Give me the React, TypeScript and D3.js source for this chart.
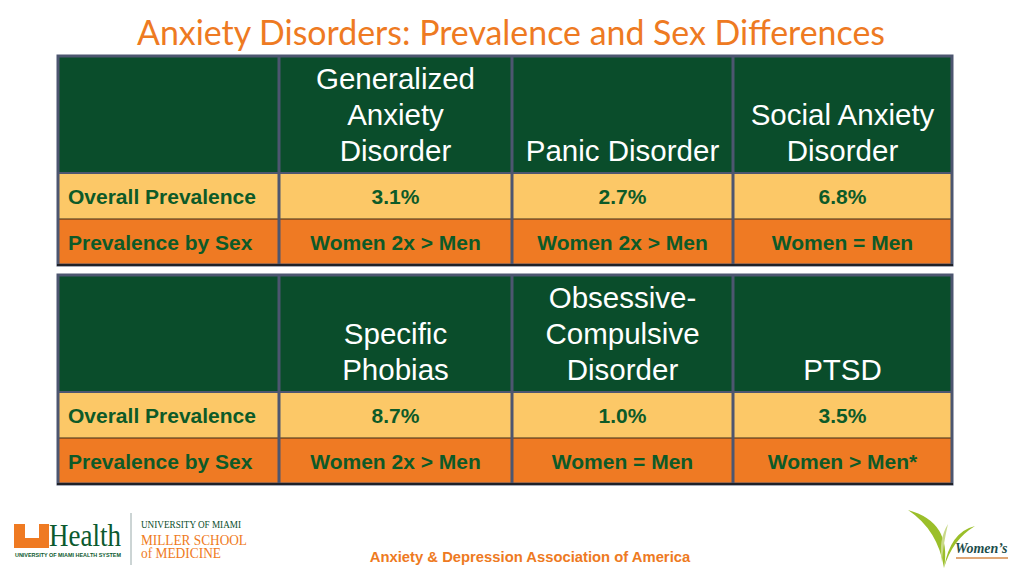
import React from "react";
import * as d3 from "d3";

const title = "Anxiety Disorders: Prevalence and Sex Differences";
const rowLabels = ["Overall Prevalence", "Prevalence by Sex"];
const disordersTop = [["Generalized", "Anxiety", "Disorder"], ["Panic Disorder"], ["Social Anxiety", "Disorder"]];
const prevalenceTop = ["3.1%", "2.7%", "6.8%"];
const sexTop = ["Women 2x > Men", "Women 2x > Men", "Women = Men"];
const disordersBottom = [["Specific", "Phobias"], ["Obsessive-", "Compulsive", "Disorder"], ["PTSD"]];
const prevalenceBottom = ["8.7%", "1.0%", "3.5%"];
const sexBottom = ["Women 2x > Men", "Women = Men", "Women > Men*"];
const source = "Anxiety & Depression Association of America";

const GREEN = "#0a4d2b";
const LIGHT = "#fcc867";
const DARK = "#ef7a23";
const TXT = "#0d5a28";
const BORDER = "#4d5670";

const colEdges = [58, 279, 512, 733, 952];

type TableProps = {
  top: number;
  headers: string[][];
  prev: string[];
  sex: string[];
};

function Table({ top, headers, prev, sex }: TableProps) {
  const headerH = 117;
  const rowH = 46;
  const y = d3.scaleLinear().domain([0, 1, 2, 3]).range([top, top + headerH, top + headerH + rowH, top + headerH + 2 * rowH]);
  const left = colEdges[0];
  const right = colEdges[colEdges.length - 1];
  const cells: JSX.Element[] = [];
  const rowFills = [GREEN, LIGHT, DARK];
  for (let r = 0; r < 3; r++) {
    cells.push(
      <rect key={"bg" + r} x={left} y={y(r)} width={right - left} height={y(r + 1) - y(r)} fill={rowFills[r]} />
    );
  }
  headers.forEach((lines, i) => {
    const cx = (colEdges[i + 1] + colEdges[i + 2]) / 2;
    const n = lines.length;
    lines.forEach((ln, j) => {
      cells.push(
        <text key={"h" + i + j} x={cx} y={y(1) - 12 - (n - 1 - j) * 36} textAnchor="middle" fill="#fff"
          fontFamily="Liberation Sans, Arial, sans-serif" fontSize={29.5}>{ln}</text>
      );
    });
  });
  [prev, sex].forEach((vals, r) => {
    cells.push(
      <text key={"rl" + r} x={left + 10} y={(y(r + 1) + y(r + 2)) / 2 + 7.5} fill={TXT} fontWeight="bold"
        fontFamily="Liberation Sans, Arial, sans-serif" fontSize={21}>{rowLabels[r]}</text>
    );
    vals.forEach((v, i) => {
      const cx = (colEdges[i + 1] + colEdges[i + 2]) / 2;
      cells.push(
        <text key={"v" + r + i} x={cx} y={(y(r + 1) + y(r + 2)) / 2 + 7.5} textAnchor="middle" fill={TXT} fontWeight="bold"
          fontFamily="Liberation Sans, Arial, sans-serif" fontSize={21}>{v}</text>
      );
    });
  });
  cells.push(<line key="l1" x1={left} x2={right} y1={y(1)} y2={y(1)} stroke={BORDER} strokeWidth={2} />);
  cells.push(<line key="l2" x1={left} x2={right} y1={y(2)} y2={y(2)} stroke="#3a2a1a" strokeWidth={1.2} />);
  colEdges.slice(1, -1).forEach((cx, i) => {
    cells.push(<line key={"c" + i} x1={cx} x2={cx} y1={top} y2={y(3)} stroke={BORDER} strokeWidth={3} />);
  });
  cells.push(<rect key="outer" x={left} y={top} width={right - left} height={y(3) - top} fill="none" stroke={BORDER} strokeWidth={3} />);
  cells.push(<line key="bot" x1={left - 1} x2={right + 1} y1={y(3)} y2={y(3)} stroke="#111" strokeWidth={1.5} />);
  return <g>{cells}</g>;
}

export default function App() {
  const leaf1 = d3.path();
  leaf1.moveTo(908, 510);
  leaf1.quadraticCurveTo(952, 522, 944, 568);
  leaf1.quadraticCurveTo(938, 530, 908, 510);
  const leaf2 = d3.path();
  leaf2.moveTo(944, 568);
  leaf2.quadraticCurveTo(950, 532, 975, 526);
  leaf2.quadraticCurveTo(952, 540, 944, 568);
  const leaf3 = d3.path();
  leaf3.moveTo(942, 562);
  leaf3.quadraticCurveTo(938, 540, 948, 524);
  leaf3.quadraticCurveTo(943, 545, 942, 562);
  return (
    <svg width={1024} height={576} style={{ position: "absolute", left: 0, top: 0, background: "#fff" }}>
      <rect width={1024} height={576} fill="#fff" />
      <text x={511} y={45} textAnchor="middle" fill="#ee7a22" fontFamily="Lato, sans-serif" fontSize={34}
        textLength={748} lengthAdjust="spacingAndGlyphs">{title}</text>
      <Table top={56} headers={disordersTop} prev={prevalenceTop} sex={sexTop} />
      <Table top={275} headers={disordersBottom} prev={prevalenceBottom} sex={sexBottom} />
      <g>
        <path d="M14,524 h11 v14 h14 v-14 h10 v24 h-35 z" fill="#ef7a22" />
        <text x={49} y={546} fill="#0b5a2e" fontFamily="Liberation Serif, serif" fontSize={32}
          textLength={72} lengthAdjust="spacingAndGlyphs">Health</text>
        <text x={15} y={557} fill="#0b5a2e" fontFamily="Liberation Sans, sans-serif" fontSize={5.8} fontWeight="bold"
          textLength={106} lengthAdjust="spacingAndGlyphs">UNIVERSITY OF MIAMI HEALTH SYSTEM</text>
        <line x1={131} x2={131} y1={513} y2={565} stroke="#9aa" strokeWidth={1} />
        <text x={141} y={528} fill="#0b4d2a" fontFamily="Liberation Serif, serif" fontSize={9.5}
          textLength={100} lengthAdjust="spacingAndGlyphs">UNIVERSITY OF MIAMI</text>
        <text x={141} y={545} fill="#ef7a22" fontFamily="Liberation Serif, serif" fontSize={14}
          textLength={106} lengthAdjust="spacingAndGlyphs">MILLER SCHOOL</text>
        <text x={141} y={558} fill="#ef7a22" fontFamily="Liberation Serif, serif" fontSize={14}
          textLength={80} lengthAdjust="spacingAndGlyphs">of MEDICINE</text>
      </g>
      <text x={530} y={562} textAnchor="middle" fill="#ee7a22" fontFamily="Liberation Sans, Arial, sans-serif"
        fontWeight="bold" fontSize={14.8}>{source}</text>
      <g>
        <path d={leaf1.toString()} fill="#9bbf2a" />
        <path d={leaf3.toString()} fill="#c9d98a" />
        <path d={leaf2.toString()} fill="#9bbf2a" />
        <text x={955} y={553} fill="#1d4d4a" fontFamily="Liberation Serif, serif" fontStyle="italic" fontWeight="bold"
          fontSize={14}>Women’s</text>
        <line x1={956} x2={1008} y1={558} y2={558} stroke="#d58a4a" strokeWidth={1.5} />
      </g>
    </svg>
  );
}
